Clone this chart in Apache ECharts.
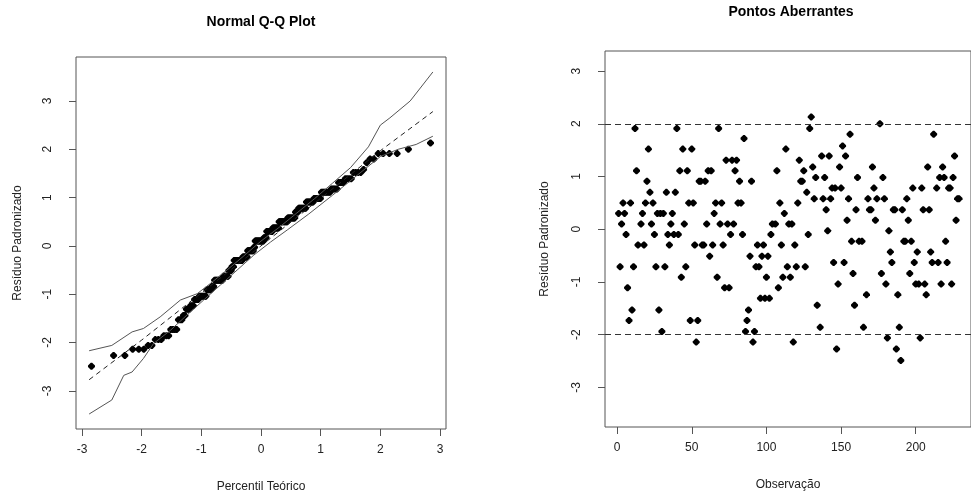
<!DOCTYPE html>
<html>
<head>
<meta charset="utf-8">
<script src="https://cdn.jsdelivr.net/npm/echarts@6/dist/echarts.min.js"></script>
<style>
  html, body { margin: 0; padding: 0; background: #fff; }
  #chart { width: 971px; height: 501px; }
</style>
</head>
<body>
<div id="chart"></div>
<script>
const obsIndex = [
  1,2,3,4,5,6,7,8,9,10,11,12,13,14,16,17,18,19,20,21,22,23,24,25,26,27,28,29,30,
  31,32,33,34,35,36,37,38,39,40,41,42,43,44,45,46,47,48,49,50,51,52,53,54,55,56,57,58,59,60,
  61,62,63,64,65,66,67,68,69,70,71,72,73,74,75,76,77,78,79,80,81,82,83,84,85,86,87,88,89,90,
  91,92,93,94,95,96,97,98,99,100,101,102,103,104,106,107,108,109,110,111,112,113,114,115,116,117,118,119,120,
  121,122,123,124,125,126,127,128,129,130,131,132,133,134,136,137,138,139,140,141,142,143,144,145,146,147,148,149,150,
  151,152,153,154,155,156,157,158,159,160,161,162,164,165,167,168,169,170,171,172,173,174,176,177,178,179,180,
  181,182,183,184,185,186,187,188,189,190,191,192,193,194,195,196,197,198,199,200,201,202,203,204,205,206,207,208,209,210,
  211,212,214,215,216,217,218,219,220,221,222,223,224,225,226,227,228,229
];
const residuos = [
  0.30,-0.71,0.10,0.50,0.30,-0.10,-1.11,-1.73,0.50,-1.53,-0.71,1.91,1.11,-0.30,0.10,0.30,-0.30,0.50,0.91,1.52,0.70,0.10,0.50,-0.10,-0.71,0.30,-1.53,0.30,-1.94,
  0.30,-0.71,0.70,-0.10,-0.30,0.10,0.30,-0.10,0.70,1.91,-0.10,1.11,-0.91,1.52,0.10,-0.71,1.11,0.50,-1.73,1.52,0.50,-0.30,-2.14,-1.73,0.91,0.91,-0.30,-0.30,0.91,0.10,
  1.11,-0.51,1.11,-0.30,0.30,0.50,-0.91,1.91,0.10,0.50,-0.30,-1.11,1.31,0.10,-1.11,-0.10,1.31,0.10,1.11,1.31,0.50,0.91,0.50,-0.10,1.72,-1.94,-1.73,-1.53,-0.51,0.91,
  -2.14,-1.94,-0.71,-0.30,-0.71,-1.31,-0.51,-0.30,-1.31,-0.91,-0.51,-1.31,-0.10,0.10,0.10,1.11,-1.11,0.50,-0.30,-0.91,0.30,1.52,-0.71,0.10,-0.91,0.10,-2.14,-0.30,-0.71,
  0.50,1.31,0.91,0.91,1.11,-0.71,0.70,-0.10,1.91,2.13,1.18,0.58,0.98,-1.44,-1.86,1.39,0.58,0.98,0.37,-0.03,1.39,0.58,0.78,-0.63,0.78,-2.27,-1.04,1.18,0.78,
  1.58,-0.63,1.39,0.17,0.58,1.80,-0.23,-0.84,-1.44,0.37,0.98,-0.23,-0.23,-1.86,-1.24,0.58,0.37,0.37,1.18,0.78,0.17,0.58,2.00,-0.84,0.98,0.58,-1.04,
  -2.06,-0.03,-0.43,-0.63,0.37,0.37,-2.27,-1.24,-1.86,-2.49,0.37,-0.23,-0.23,0.58,0.17,-0.84,-0.23,0.78,-0.63,-1.04,-0.43,-1.04,-2.06,0.78,0.37,-1.04,-1.24,1.18,0.37,-0.43,
  -0.63,1.80,0.78,-0.63,0.98,-1.04,1.18,0.98,-0.23,-0.63,0.78,0.78,-1.04,0.98,1.39,0.17,0.58,0.58
];

// envelope simulado do grafico normal
const envInfX = [-2.88,-2.50,-2.30,-2.16,-1.97,-1.80,-1.52,-1.24,-0.96,-0.68,-0.40,-0.12,0.16,0.44,0.80,1.20,1.60,2.00,2.30,2.60,2.88];
const envInfY = [-3.48,-3.19,-2.68,-2.61,-2.33,-2.02,-1.75,-1.43,-1.12,-0.81,-0.50,-0.19,0.08,0.33,0.66,1.05,1.45,1.85,2.00,2.10,2.27];
const envSupX = [-2.88,-2.50,-2.16,-1.97,-1.69,-1.35,-1.07,-0.85,-0.57,-0.30,0.00,0.30,0.60,0.90,1.20,1.50,1.80,2.00,2.16,2.50,2.88];
const envSupY = [-2.17,-2.06,-1.78,-1.71,-1.47,-1.12,-0.99,-0.78,-0.50,-0.22,0.10,0.38,0.68,0.98,1.30,1.62,2.05,2.50,2.65,3.00,3.60];
const envMedX = [-2.88,-2.00,0.00,2.00,2.88];
const envMedY = [-2.77,-1.95,0.00,1.97,2.78];

const qqTicksX = [-3,-2,-1,0,1,2,3];
const qqTicksY = [-3,-2,-1,0,1,2,3];
const obsTicksX = [0,50,100,150,200];
const obsTicksY = [-3,-2,-1,0,1,2,3];
const limites = [-2, 2];

// quantis teoricos da normal (ppoints) para os residuos ordenados
function qnorm(p) {
  const a = [-3.969683028665376e+01,2.209460984245205e+02,-2.759285104469687e+02,1.383577518672690e+02,-3.066479806614716e+01,2.506628277459239e+00];
  const b = [-5.447609879822406e+01,1.615858368580409e+02,-1.556989798598866e+02,6.680131188771972e+01,-1.328068155288572e+01];
  const c = [-7.784894002430293e-03,-3.223964580411365e-01,-2.400758277161838e+00,-2.549732539343734e+00,4.374664141464968e+00,2.938163982698783e+00];
  const d = [7.784695709041462e-03,3.224671290700398e-01,2.445134137142996e+00,3.754408661907416e+00];
  const pl = 0.02425;
  let q, r;
  if (p < pl) {
    q = Math.sqrt(-2 * Math.log(p));
    return (((((c[0]*q+c[1])*q+c[2])*q+c[3])*q+c[4])*q+c[5]) / ((((d[0]*q+d[1])*q+d[2])*q+d[3])*q+1);
  }
  if (p > 1 - pl) {
    q = Math.sqrt(-2 * Math.log(1 - p));
    return -(((((c[0]*q+c[1])*q+c[2])*q+c[3])*q+c[4])*q+c[5]) / ((((d[0]*q+d[1])*q+d[2])*q+d[3])*q+1);
  }
  q = p - 0.5; r = q * q;
  return (((((a[0]*r+a[1])*r+a[2])*r+a[3])*r+a[4])*r+a[5])*q / (((((b[0]*r+b[1])*r+b[2])*r+b[3])*r+b[4])*r+1);
}
const ordenados = residuos.slice().sort((u, v) => u - v);
const n = ordenados.length;
const qqData = ordenados.map((v, i) => [qnorm((i + 1 - 0.5) / n), v]);

const pares = (xs, ys) => xs.map((x, i) => [x, ys[i]]);

const chart = echarts.init(document.getElementById('chart'));
const fonte = 'Liberation Sans Narrow, Arial Narrow, Liberation Sans, Arial, sans-serif';
const tickFont = { fontFamily: fonte, fontSize: 12, color: '#222' };
const axisCommon = {
  type: 'value',
  axisLine: { show: false, onZero: false },
  splitLine: { show: false },
  axisTick: { show: true, length: 7, lineStyle: { color: '#555' } },
  nameLocation: 'middle',
  nameTextStyle: { fontFamily: fonte, fontSize: 12, color: '#222' }
};
// ponto preto arredondado (pch 18 do R)
const ponto = 'path://M4 0 L6 0 L10 4 L10 6 L6 10 L4 10 L0 6 L0 4 Z';
const pointStyle = { color: '#000', opacity: 1 };

const option = {
  animation: false,
  backgroundColor: '#fff',
  title: [
    { text: 'Normal Q-Q Plot', left: 261, top: 15, textAlign: 'center', padding: 0,
      textStyle: { fontFamily: 'Liberation Sans, Arial, sans-serif', fontSize: 14, fontWeight: 'bold', color: '#000' } },
    { text: 'Pontos Aberrantes', left: 791, top: 5, textAlign: 'center', padding: 0,
      textStyle: { fontFamily: 'Liberation Sans, Arial, sans-serif', fontSize: 14, fontWeight: 'bold', color: '#000' } }
  ],
  grid: [
    { left: 76, top: 57, width: 370, height: 372, show: true, borderColor: '#555', borderWidth: 1, backgroundColor: 'transparent' },
    { left: 605, top: 51, width: 373, height: 376, show: true, borderColor: '#555', borderWidth: 1, backgroundColor: 'transparent' }
  ],
  xAxis: [
    Object.assign({}, axisCommon, {
      gridIndex: 0, min: -3.1, max: 3.1,
      name: 'Percentil Teórico', nameGap: 52,
      axisTick: Object.assign({}, axisCommon.axisTick, { customValues: qqTicksX }),
      axisLabel: Object.assign({}, tickFont, { margin: 15, customValues: qqTicksX })
    }),
    Object.assign({}, axisCommon, {
      gridIndex: 1, min: -8.1, max: 237,
      name: 'Observação', nameGap: 52,
      axisTick: Object.assign({}, axisCommon.axisTick, { customValues: obsTicksX }),
      axisLabel: Object.assign({}, tickFont, { margin: 15, customValues: obsTicksX })
    })
  ],
  yAxis: [
    Object.assign({}, axisCommon, {
      gridIndex: 0, min: -3.79, max: 3.91,
      name: 'Resíduo Padronizado', nameGap: 52, nameRotate: 90,
      axisTick: Object.assign({}, axisCommon.axisTick, { customValues: qqTicksY }),
      axisLabel: Object.assign({}, tickFont, { margin: 22, rotate: 90, customValues: qqTicksY })
    }),
    Object.assign({}, axisCommon, {
      gridIndex: 1, min: -3.75, max: 3.38,
      name: 'Resíduo Padronizado', nameGap: 54, nameRotate: 90,
      axisTick: Object.assign({}, axisCommon.axisTick, { customValues: obsTicksY }),
      axisLabel: Object.assign({}, tickFont, { margin: 22, rotate: 90, customValues: obsTicksY })
    })
  ],
  series: [
    { type: 'line', xAxisIndex: 0, yAxisIndex: 0, data: pares(envSupX, envSupY), symbol: 'none',
      lineStyle: { color: '#555', width: 1 }, silent: true },
    { type: 'line', xAxisIndex: 0, yAxisIndex: 0, data: pares(envInfX, envInfY), symbol: 'none',
      lineStyle: { color: '#555', width: 1 }, silent: true },
    { type: 'line', xAxisIndex: 0, yAxisIndex: 0, data: pares(envMedX, envMedY), symbol: 'none',
      lineStyle: { color: '#222', width: 1, type: [5, 4] }, silent: true },
    { type: 'scatter', xAxisIndex: 0, yAxisIndex: 0, data: qqData, symbol: ponto, symbolSize: 7,
      itemStyle: pointStyle },
    { type: 'scatter', xAxisIndex: 1, yAxisIndex: 1, data: pares(obsIndex, residuos), symbol: ponto, symbolSize: 7,
      itemStyle: pointStyle,
      markLine: {
        silent: true, symbol: 'none', label: { show: false },
        lineStyle: { color: '#333', width: 1, type: [6, 4] },
        data: limites.map(v => ({ yAxis: v }))
      } }
  ]
};
chart.setOption(option);
</script>
</body>
</html>
